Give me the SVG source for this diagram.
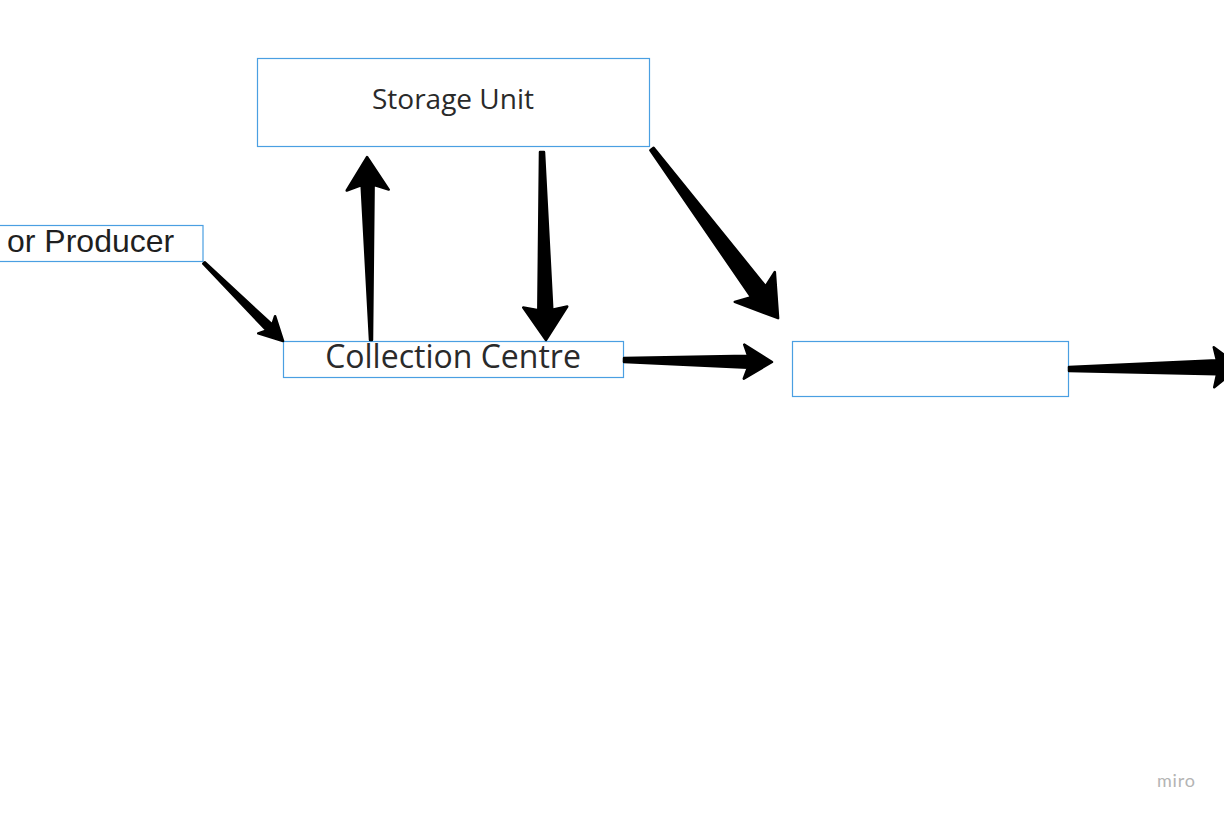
<svg xmlns="http://www.w3.org/2000/svg" width="1224" height="816" viewBox="0 0 1224 816">
<style>
.box{fill:#fff;stroke:#4a9fe2;stroke-width:1.2}
.arr{fill:#000;stroke:#000;stroke-width:2.5;stroke-linejoin:round}
.os{font-family:"Open Sans","Noto Sans",sans-serif;fill:#2a2a2a}
.ar{font-family:"Liberation Sans",Arial,sans-serif;fill:#1f1f1f}
</style>
<rect width="1224" height="816" fill="#fff"/>
<g id="producer">
<rect class="box" x="-5" y="225.5" width="208" height="36"/>
<text class="ar" x="7" y="252" font-size="32">or Producer</text>
</g>
<g id="storage">
<rect class="box" x="257.5" y="58.5" width="392" height="88"/>
<text class="os" x="453" y="109" font-size="28" text-anchor="middle">Storage Unit</text>
</g>
<g id="collection">
<rect class="box" x="283.5" y="341.5" width="340" height="36"/>
<text class="os" x="453" y="368" font-size="32" text-anchor="middle">Collection Centre</text>
</g>
<g id="empty">
<rect class="box" x="792.5" y="341.5" width="276" height="55"/>
</g>
<g id="connectors">
<path class="arr" transform="translate(204,263) rotate(44.6)" d="M0,-1 L92,-4 L88,-12 L111,0 L88,12 L92,4 L0,1 Z"/>
<path class="arr" transform="translate(371,340) rotate(-91.25)" d="M0,-1 L155,-6 L150,-21 L183,0 L150,21 L155,6 L0,1 Z"/>
<path class="arr" transform="translate(542,152) rotate(88.8)" d="M0,-2 L158,-7 L155,-22 L188,0 L155,22 L158,7 L0,2 Z"/>
<path class="arr" transform="translate(652,149) rotate(53.3)" d="M0,-2 L178,-9 L172,-25 L211,0 L172,25 L178,9 L0,2 Z"/>
<path class="arr" transform="translate(624,360) rotate(0.77)" d="M0,-2 L124,-6 L120,-17 L148,0 L120,17 L124,6 L0,2 Z"/>
<path class="arr" transform="translate(1069,369) rotate(-0.7)" d="M0,-2 L148,-7 L145,-20 L171,0 L145,20 L148,7 L0,2 Z"/>
</g>
<text x="1157" y="787" font-family="Lato,'Open Sans',sans-serif" font-size="18" fill="#b4b4b4" letter-spacing="0.8">miro</text>
</svg>
